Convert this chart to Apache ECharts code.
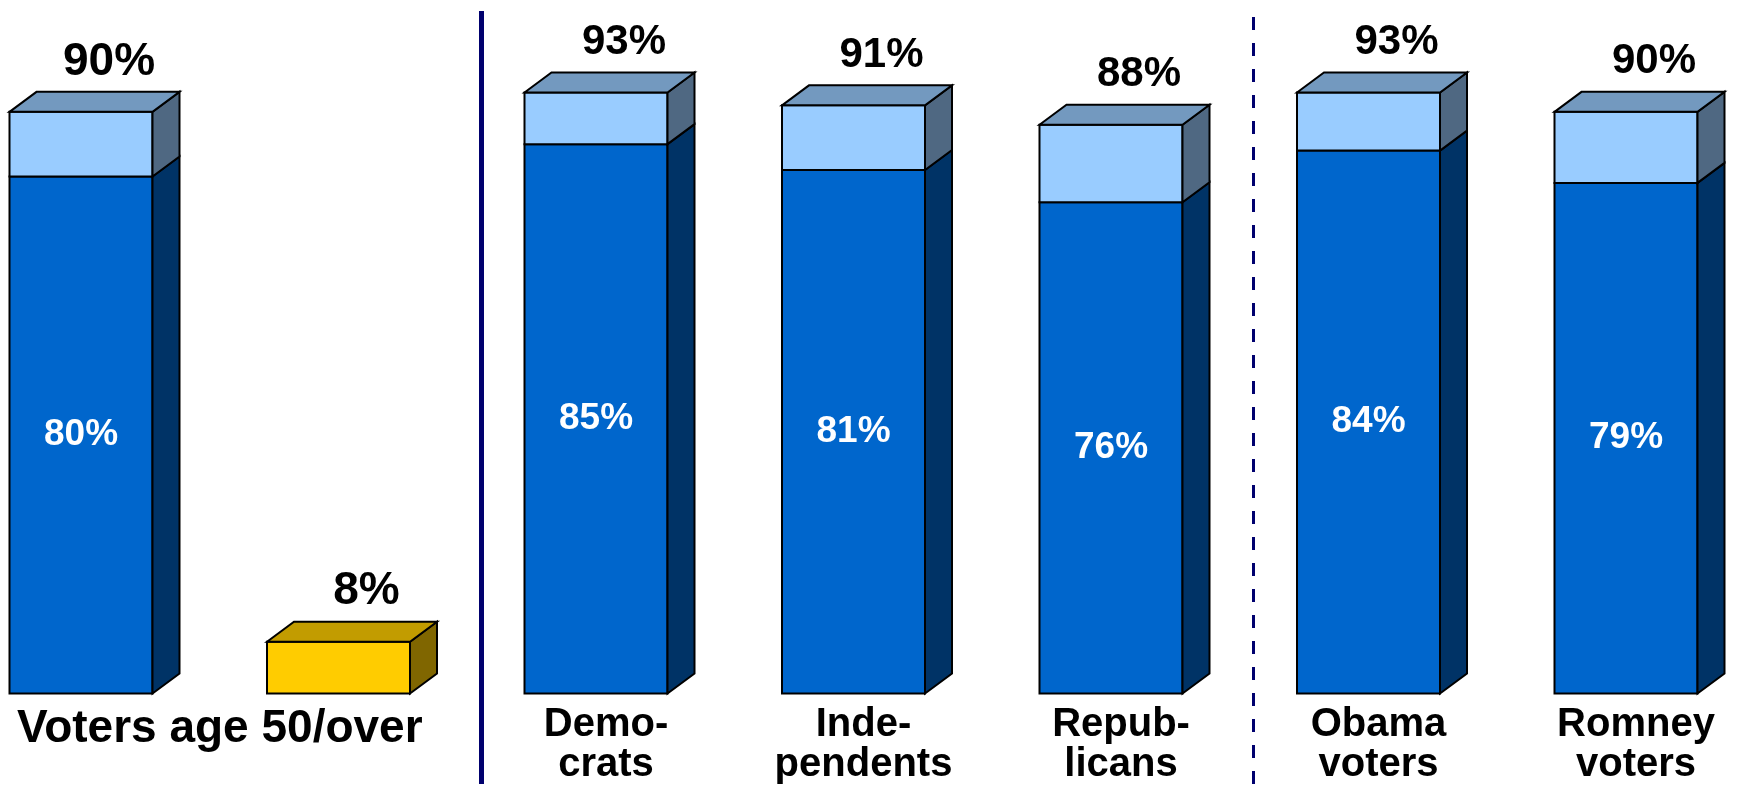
<!DOCTYPE html>
<html>
<head>
<meta charset="utf-8">
<script src="https://cdn.jsdelivr.net/npm/echarts@6/dist/echarts.min.js"></script>
<style>
  html, body { margin: 0; padding: 0; background: #ffffff; }
  #chart { width: 1739px; height: 787px; }
</style>
</head>
<body>
<div id="chart"></div>
<script>
// ---- data ----
const categories = ['Voters age 50/over (a)', 'Voters age 50/over (b)', 'Democrats', 'Independents', 'Republicans', 'Obama voters', 'Romney voters'];
const tickLabels = ['Voters age 50/over', '', 'Demo-\ncrats', 'Inde-\npendents', 'Repub-\nlicans', 'Obama\nvoters', 'Romney\nvoters'];
const totalValues = [90, 8, 93, 91, 88, 93, 90];
const innerValues = [80, null, 85, 81, 76, 84, 79];
const separators = [1.5, 4.5]; // boundaries between category groups

// ---- styling ----
const FONT = '"Liberation Sans", Arial, Helvetica, sans-serif';
const FRONT_W = 143, DX = 27, DY = -20;
const PAL = {
  dark:  { front: '#0066CC', side: '#003366', top: '#7399BF' },
  light: { front: '#99CCFF', side: '#4F6882', top: '#7399BF' },
  gold:  { front: '#FFCC00', side: '#806600', top: '#C29C00' }
};
const OUTLINE = { stroke: '#000000', lineWidth: 2, lineJoin: 'miter' };

function renderItem(params, api) {
  const i = params.dataIndex;
  const pos = api.value(0);
  const total = api.value(1);
  const inner = innerValues[i];
  const c0 = api.coord([pos, 0]);
  const cT = api.coord([pos, total]);
  const frontCx = c0[0] - DX / 2;
  const xl = frontCx - FRONT_W / 2;
  const xr = xl + FRONT_W;
  const y0 = c0[1];
  const yTop = cT[1];
  const children = [];

  function block(yb, yt, pal) {
    children.push({
      type: 'rect',
      shape: { x: xl, y: yt, width: FRONT_W, height: yb - yt },
      style: Object.assign({ fill: pal.front }, OUTLINE)
    });
    children.push({
      type: 'polygon',
      shape: { points: [[xr, yb], [xr + DX, yb + DY], [xr + DX, yt + DY], [xr, yt]] },
      style: Object.assign({ fill: pal.side }, OUTLINE)
    });
  }

  let topPal;
  let yInner = null;
  if (inner != null) {
    yInner = api.coord([pos, inner])[1];
    block(y0, yInner, PAL.dark);
    block(yInner, yTop, PAL.light);
    topPal = PAL.light;
  } else {
    block(y0, yTop, PAL.gold);
    topPal = PAL.gold;
  }
  children.push({
    type: 'polygon',
    shape: { points: [[xl, yTop], [xl + DX, yTop + DY], [xr + DX, yTop + DY], [xr, yTop]] },
    style: Object.assign({ fill: topPal.top }, OUTLINE)
  });

  // top value label
  const topSize = i < 2 ? 46 : 42;
  children.push({
    type: 'text',
    style: {
      text: total + '%', x: frontCx + 28, y: yTop + DY - 30,
      fill: '#000000', fontSize: topSize, fontWeight: 'bold', fontFamily: FONT,
      align: 'center', verticalAlign: 'middle'
    }
  });

  // inner value label
  if (inner != null) {
    children.push({
      type: 'text',
      style: {
        text: inner + '%', x: frontCx, y: (y0 + yInner) / 2,
        fill: '#FFFFFF', fontSize: 37, fontWeight: 'bold', fontFamily: FONT,
        align: 'center', verticalAlign: 'middle'
      }
    });
  }

  // category label
  const lbl = tickLabels[i];
  if (lbl) {
    let cx = frontCx;
    if (i + 1 < tickLabels.length && tickLabels[i + 1] === '') {
      const nextCx = api.coord([pos + 1, 0])[0] - DX / 2;
      cx = (frontCx + nextCx) / 2;
    }
    const big = (i === 0);
    children.push({
      type: 'text',
      style: {
        text: lbl, x: cx + 10, y: y0 + (big ? 13 : 11),
        fill: '#000000', fontSize: big ? 46 : 40, lineHeight: big ? 46 : 40,
        fontWeight: 'bold', fontFamily: FONT,
        align: 'center', verticalAlign: 'top'
      }
    });
  }

  return { type: 'group', children: children };
}

const chart = echarts.init(document.getElementById('chart'), null, { renderer: 'canvas' });
chart.setOption({
  animation: false,
  backgroundColor: '#ffffff',
  grid: { left: 0, right: 0, top: 11, bottom: 3, containLabel: false },
  xAxis: {
    type: 'value', min: -0.367, max: 6.3864, show: false,
    splitLine: { show: false }
  },
  yAxis: {
    type: 'value', min: -14, max: 105.6, show: false,
    splitLine: { show: false }
  },
  series: [{
    type: 'custom',
    name: 'Bars',
    clip: false,
    renderItem: renderItem,
    data: categories.map(function (c, i) { return [i, totalValues[i]]; }),
    markLine: {
      silent: true,
      symbol: ['none', 'none'],
      label: { show: false },
      data: [
        { xAxis: separators[0], lineStyle: { color: '#00006E', width: 5, type: 'solid' } },
        { xAxis: separators[1], lineStyle: { color: '#00006E', width: 3, type: [13, 13] } }
      ]
    }
  }]
});
</script>
</body>
</html>
